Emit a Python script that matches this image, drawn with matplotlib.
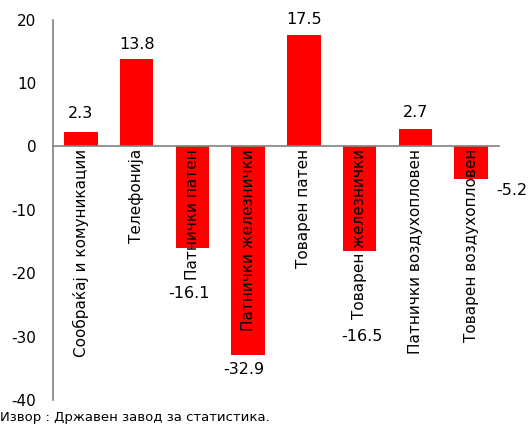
import matplotlib.pyplot as plt

# Годишна промена, %
categories = ['Сообраќај и комуникации', 'Телефонија', 'Патнички патен',
              'Патнички железнички', 'Товарен патен', 'Товарен железнички',
              'Патнички воздухопловен', 'Товарен воздухопловен']
values = [2.3, 13.8, -16.1, -32.9, 17.5, -16.5, 2.7, -5.2]
yticks = [20, 10, 0, -10, -20, -30, -40]

# поместување на ознаките со вредности (пиксели)
label_offsets = [(0, 18), (0, 14), (-3, -45), (-4, -15),
                 (0, 16), (2, -86), (0, 17), (41, -11)]

plt.rcParams['font.family'] = 'DejaVu Sans'
gray = '#808080'

fig = plt.figure(figsize=(5.32, 4.25), dpi=100)
ax = fig.add_axes([0.0996, 0.0588, 0.8384, 0.8953])

x = list(range(len(values)))
ax.bar(x, values, width=0.6, color='#ff0000', zorder=1)

for i, v in enumerate(values):
    dx, dy = label_offsets[i]
    ax.annotate(f'{v:.1f}', (i, v), xytext=(dx, dy), textcoords='offset pixels',
                ha='center', va='center', fontsize=11.5, color='black')

# оската x минува низ нулата
ax.spines['bottom'].set_position(('data', 0))
for s in ['top', 'right']:
    ax.spines[s].set_visible(False)
for s in ['left', 'bottom']:
    ax.spines[s].set_color(gray)
    ax.spines[s].set_linewidth(1.2)
    ax.spines[s].set_zorder(3)

ax.set_xlim(-0.5, len(values) - 0.5)
ax.set_ylim(-40, 20)
ax.set_yticks(yticks)
ax.set_yticklabels([str(t) for t in yticks], fontsize=11)
ax.set_xticks(x)
ax.set_xticklabels(categories, rotation=90, fontsize=11, va='top', ha='center')
ax.tick_params(axis='y', length=0, pad=12)
ax.tick_params(axis='x', length=0, pad=2)

fig.text(0.0, 0.003, 'Извор : Државен завод за статистика.', fontsize=9.5,
         ha='left', va='bottom')

plt.savefig('out.png', dpi=100)
